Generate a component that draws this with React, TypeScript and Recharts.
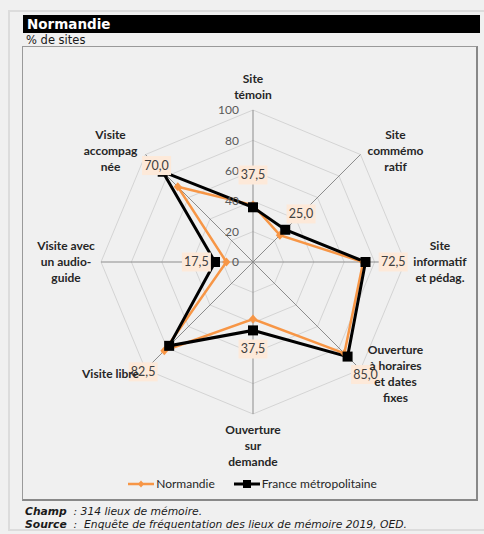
import { RadarChart, Radar, PolarGrid, PolarAngleAxis, PolarRadiusAxis, Legend } from "recharts";

const categories = [
  "Site\ntémoin",
  "Site\ncommémo\nratif",
  "Site\ninformatif\net pédag.",
  "Ouverture\nà horaires\net dates\nfixes",
  "Ouverture\nsur\ndemande",
  "Visite libre",
  "Visite avec\nun audio-\nguide",
  "Visite\naccompag\nnée",
];
const normandie = [37.5, 25, 72.5, 85, 37.5, 82.5, 17.5, 70];
const france = [36, 30, 74, 88, 45, 78, 25, 84];
const radiusTicks = [0, 20, 40, 60, 80, 100];

const data = categories.map((c, i) => ({ cat: c, normandie: normandie[i], france: france[i] }));

const CX = 253;
const CY = 262;
const R = 152;
const ORANGE = "#f79646";
const labelFont = "Lato, 'Open Sans', sans-serif";

function AngleTick(props: any) {
  const angle = props.payload.coordinate;
  const rad = (angle * Math.PI) / 180;
  const cos = Math.cos(rad);
  const sin = Math.sin(rad);
  const vx = CX + R * cos;
  const vy = CY - R * sin;
  const lines = String(props.payload.value).split("\n");
  let lx = vx;
  let ly = vy;
  if (Math.abs(cos) < 0.1) {
    ly = sin > 0 ? vy - 23 : vy + 32;
  } else {
    lx = vx + Math.sign(cos) * 35;
    ly = vy + (Math.abs(sin) > 0.1 ? (sin > 0 ? -4 : 4) : 0);
  }
  const lh = 16;
  const top = ly - ((lines.length - 1) * lh) / 2;
  return (
    <text
      x={lx}
      y={top}
      textAnchor="middle"
      fontFamily={labelFont}
      fontWeight="bold"
      fontSize={12}
      fill="#262626"
    >
      {lines.map((l, i) => (
        <tspan key={i} x={lx} y={top + i * lh} dy="0.35em">
          {l}
        </tspan>
      ))}
    </text>
  );
}

function RadiusTick(props: any) {
  return (
    <text
      x={props.x - 14}
      y={props.y}
      dy="0.35em"
      textAnchor="end"
      fontFamily={labelFont}
      fontSize={12}
      fill="#595959"
    >
      {props.payload.value}
    </text>
  );
}

function Diamond(props: any) {
  const { cx, cy } = props;
  return <path d={`M${cx},${cy - 4.5}L${cx + 4},${cy}L${cx},${cy + 4.5}L${cx - 4},${cy}Z`} fill={ORANGE} />;
}

function Square(props: any) {
  const { cx, cy } = props;
  return <rect x={cx - 5} y={cy - 5} width={10} height={10} fill="#000" />;
}

function ValueLabel(props: any) {
  const { cx, cy, value } = props;
  const v = Array.isArray(value) ? value[1] : value;
  const dx = cx - CX;
  const dy = cy - CY;
  const d = Math.sqrt(dx * dx + dy * dy) || 1;
  const x = cx + (dx / d) * 30;
  const y = cy + (dy / d) * 30;
  return (
    <g>
      <rect x={x - 14.5} y={y - 9.5} width={29} height={19} fill="#fde9d9" />
      <text x={x} y={y} dy="0.35em" textAnchor="middle" fontFamily={labelFont} fontSize={12.5} fill="#404040">
        {Number(v).toFixed(1).replace(".", ",")}
      </text>
    </g>
  );
}

function LegendContent() {
  return (
    <div style={{ display: "flex", justifyContent: "center", alignItems: "center", paddingLeft: 20, fontFamily: labelFont, fontSize: 12, color: "#262626" }}>
      <svg width={28} height={10}>
        <line x1={1} y1={5} x2={27} y2={5} stroke={ORANGE} strokeWidth={2.5} />
        <path d="M14,1.5L17,5L14,8.5L11,5Z" fill={ORANGE} />
      </svg>
      <span style={{ marginLeft: 1, marginRight: 18 }}>Normandie</span>
      <svg width={28} height={10}>
        <line x1={1} y1={5} x2={27} y2={5} stroke="#000" strokeWidth={3} />
        <rect x={10} y={1} width={8} height={8} fill="#000" />
      </svg>
      <span style={{ marginLeft: 1 }}>France métropolitaine</span>
    </div>
  );
}

export default function App() {
  return (
    <div style={{ position: "absolute", left: 0, top: 0, width: 484, height: 534, background: "#f0f0f0", overflow: "hidden" }}>
      <div style={{ position: "absolute", left: 8, top: 10, right: 0, bottom: 3, borderTop: "2px solid #dcdcdc", borderLeft: "2px solid #dcdcdc", borderBottom: "2px solid #dcdcdc" }} />
      <div style={{ position: "absolute", left: 23, top: 15, width: 457, height: 18, background: "#000", color: "#fff", fontFamily: "'DejaVu Sans', sans-serif", fontWeight: "bold", fontSize: 13.5, lineHeight: "18px", paddingLeft: 4, boxSizing: "border-box" }}>
        Normandie
      </div>
      <div style={{ position: "absolute", left: 26, top: 33, fontFamily: "'DejaVu Sans', sans-serif", fontSize: 11.5, lineHeight: "14px", color: "#1a1a1a" }}>
        % de sites
      </div>
      <div style={{ position: "absolute", left: 22, top: 46, width: 456, height: 455, border: "1px solid #9a9a9a", borderRight: "2px solid #888", borderBottom: "2px solid #888", boxSizing: "border-box" }} />
      <div style={{ position: "absolute", left: 0, top: 0 }}>
        <RadarChart width={484} height={534} data={data} cx={CX} cy={CY} outerRadius={R} margin={{ top: 0, right: 0, bottom: 0, left: 0 }}>
          <PolarGrid gridType="polygon" radialLines={false} stroke="#d4d4d4" />
          <PolarGrid gridType="polygon" polarRadius={[0]} stroke="#8c8c8c" />
          <PolarRadiusAxis angle={90} domain={[0, 100]} ticks={radiusTicks} tick={<RadiusTick />} axisLine={false} tickLine={false} />
          <Radar dataKey="normandie" name="Normandie" stroke={ORANGE} strokeWidth={2.5} fill="none" dot={<Diamond />} isAnimationActive={false} />
          <Radar dataKey="france" name="France métropolitaine" stroke="#000" strokeWidth={3} fill="none" dot={<Square />} isAnimationActive={false} />
          <Radar dataKey="normandie" stroke="none" fill="none" legendType="none" dot={<ValueLabel />} isAnimationActive={false} />
          <PolarAngleAxis dataKey="cat" tick={<AngleTick />} tickLine={false} axisLine={false} zIndex={3000} />
          <Legend content={<LegendContent />} wrapperStyle={{ position: "absolute", top: 476, left: 0, width: 484, bottom: "auto" }} />
        </RadarChart>
      </div>
      <div style={{ position: "absolute", left: 25, top: 505, fontFamily: "'DejaVu Sans', sans-serif", fontStyle: "italic", fontSize: 10.75, lineHeight: "13px", color: "#1a1a1a" }}>
        <div><b>Champ</b> &nbsp;: 314 lieux de mémoire.</div>
        <div><b>Source</b> &nbsp;: &nbsp;Enquête de fréquentation des lieux de mémoire 2019, OED.</div>
      </div>
    </div>
  );
}
